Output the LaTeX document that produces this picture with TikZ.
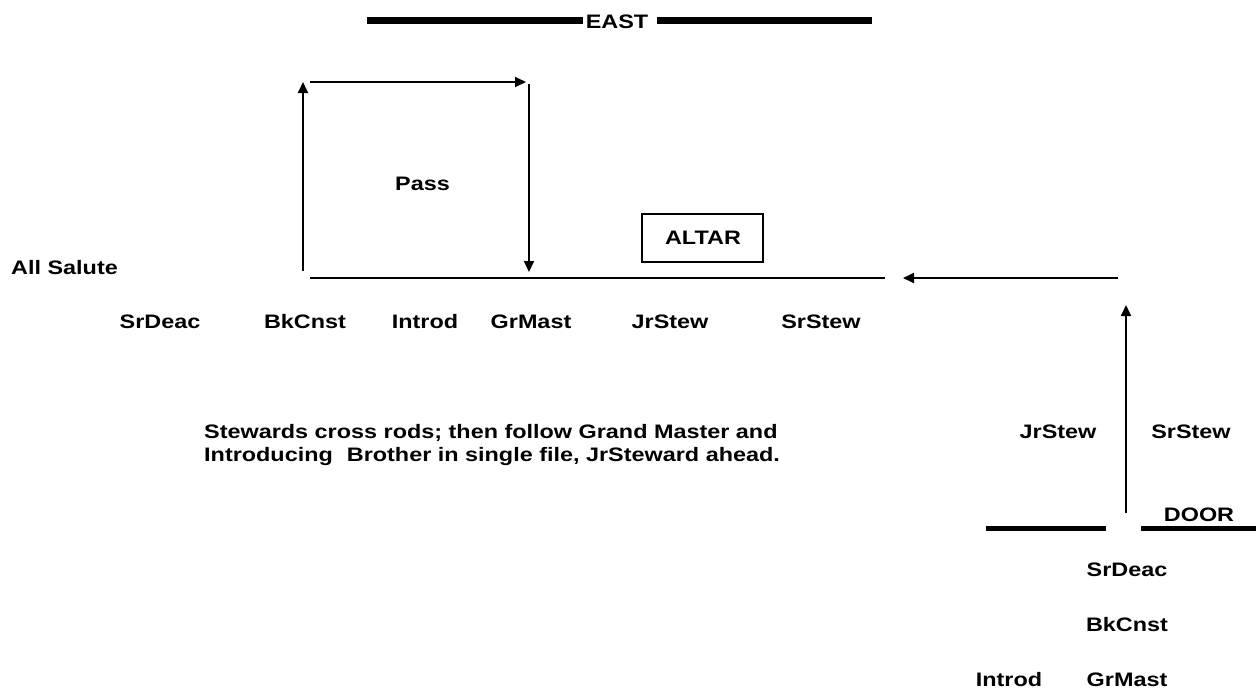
\documentclass[tikz,border=0pt]{standalone}
\usepackage{fontspec}
\setmainfont{Liberation Sans}[FakeStretch=1.2]
\usetikzlibrary{arrows.meta}
\begin{document}
\begin{tikzpicture}[x=1pt,y=-1pt,
  lbl/.style={inner sep=0pt,font=\fontsize{19.5}{22}\selectfont\bfseries},
  arr/.style={line width=1.8pt,-{Triangle[length=11pt,width=10pt]}},
  flat/.style={line width=2.4pt},
  wall/.style={line width=7pt},
  doorwall/.style={line width=5pt},
  box/.style={draw,line width=1.4pt,minimum width=121pt,minimum height=48pt,inner sep=0pt}]
\useasboundingbox (0,0) rectangle (1256,689);
% EAST wall
\node[lbl] (east) at (617,22) {EAST};
\coordinate (eL) at (367,20);
\coordinate (eLi) at (583,20);
\coordinate (eRi) at (657,20);
\coordinate (eR) at (872,20);
\draw[wall] (eL) -- (eLi);
\draw[wall] (eRi) -- (eR);
% Pass arrows
\coordinate (a1) at (303,271);
\coordinate (a2) at (303,82);
\coordinate (b1) at (310,82);
\coordinate (b2) at (526,82);
\coordinate (c1) at (529,84);
\coordinate (c2) at (529,272);
\draw[arr] (a1) -- (a2);
\draw[arr] (b1) -- (b2);
\draw[arr] (c1) -- (c2);
\node[lbl] (pass) at (422.5,184) {Pass};
% Altar
\node[box] (altar) at (702.5,238) {};
\node[lbl] (altartxt) at (703,238) {ALTAR};
% main line and return arrow
\coordinate (m1) at (310,278);
\coordinate (m2) at (885,278);
\draw[flat] (m1) -- (m2);
\coordinate (r1) at (1118,278);
\coordinate (r2) at (903,278);
\draw[arr] (r1) -- (r2);
\coordinate (u1) at (1126,513);
\coordinate (u2) at (1126,305);
\draw[arr] (u1) -- (u2);
\node[lbl,anchor=west] (salute) at (11,268) {All Salute};
% row of officers
\node[lbl] (s1) at (160,322) {SrDeac};
\node[lbl] (s2) at (305,322) {BkCnst};
\node[lbl] (s3) at (425,322) {Introd};
\node[lbl] (s4) at (531,322) {GrMast};
\node[lbl] (s5) at (670,322) {JrStew};
\node[lbl] (s6) at (821,322) {SrStew};
% note
\node[lbl,anchor=west] (n1) at (204,433) {Stewards cross rods; then follow Grand Master and};
\node[lbl,anchor=west] (n2) at (204,456) {Introducing\hspace{14pt}Brother in single file, JrSteward ahead.};
% door side
\node[lbl] (j) at (1058,432) {JrStew};
\node[lbl] (sr) at (1191,432) {SrStew};
\node[lbl] (door) at (1199,515) {DOOR};
\coordinate (d1) at (986,528);
\coordinate (d2) at (1106,528);
\coordinate (d3) at (1141,528);
\coordinate (d4) at (1256,528);
\draw[doorwall] (d1) -- (d2);
\draw[doorwall] (d3) -- (d4);
\node[lbl] (q1) at (1127,570) {SrDeac};
\node[lbl] (q2) at (1127,625) {BkCnst};
\node[lbl] (q3) at (1127,680) {GrMast};
\node[lbl] (q4) at (1009,680) {Introd};
\end{tikzpicture}
\end{document}
